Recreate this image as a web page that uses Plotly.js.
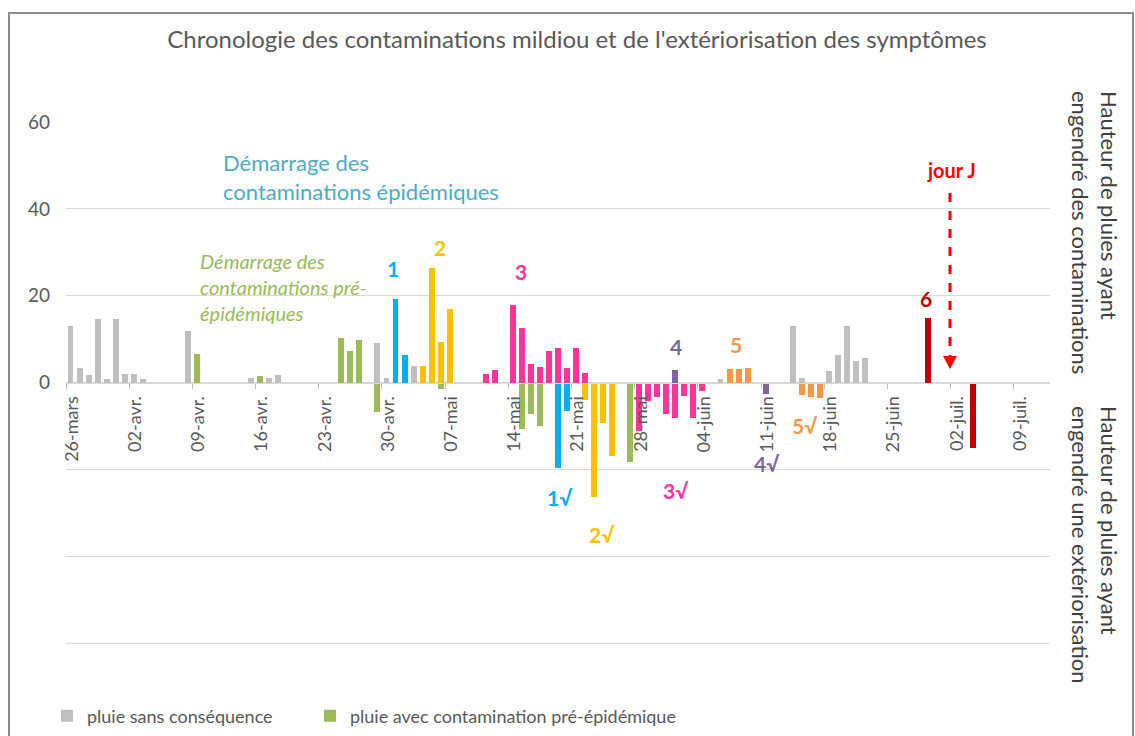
<!DOCTYPE html>
<html><head><meta charset="utf-8">
<script src="https://cdn.plot.ly/plotly-3.0.1.min.js"></script>
<style>
body{margin:0;background:#fff;overflow:hidden}
#chart{position:absolute;left:0;top:0;width:1135px;height:736px}
#frame{position:absolute;left:8px;top:12px;width:1122px;height:760px;border:2px solid #8c8c8c;pointer-events:none}
</style>
</head><body>
<div id="chart"></div><div id="frame"></div>
<script>
// ---- data ----
const grayDates = ['2018-03-26','2018-03-27','2018-03-28','2018-03-29','2018-03-30','2018-03-31','2018-04-01','2018-04-02','2018-04-03','2018-04-08','2018-04-15','2018-04-17','2018-04-18','2018-04-29','2018-04-30','2018-05-03','2018-06-06','2018-06-14','2018-06-15','2018-06-18','2018-06-19','2018-06-20','2018-06-21','2018-06-22'];
const grayValues = [13.0,3.4,1.7,14.7,0.9,14.7,2.0,2.0,0.9,11.8,1.0,1.0,1.8,9.1,1.0,3.8,0.9,13.1,1.1,2.8,6.3,13.1,4.9,5.7];

const greenDates = ['2018-04-09','2018-04-16','2018-04-25','2018-04-26','2018-04-27','2018-04-29','2018-05-06','2018-05-15','2018-05-16','2018-05-17','2018-05-27'];
const greenValues = [6.7,1.5,10.4,7.4,9.8,-6.8,-1.4,-10.6,-7.3,-10.0,-18.2];

const blueDates = ['2018-05-01','2018-05-02','2018-05-19','2018-05-20'];
const blueValues = [19.2,6.4,-19.6,-6.6];

const yellowDates = ['2018-05-04','2018-05-05','2018-05-06','2018-05-07','2018-05-22','2018-05-23','2018-05-24','2018-05-25'];
const yellowValues = [3.8,26.4,9.4,16.9,-4.0,-26.4,-9.3,-16.8];

const pinkDates = ['2018-05-11','2018-05-12','2018-05-14','2018-05-15','2018-05-16','2018-05-17','2018-05-18','2018-05-19','2018-05-20','2018-05-21','2018-05-22','2018-05-28','2018-05-29','2018-05-30','2018-05-31','2018-06-01','2018-06-02','2018-06-03','2018-06-04'];
const pinkValues = [1.9,3.0,17.8,12.5,4.4,3.6,7.4,8.1,3.4,8.0,2.3,-11.0,-4.2,-3.4,-7.3,-8.1,-3.0,-8.1,-2.0];

const purpleDates = ['2018-06-01','2018-06-11'];
const purpleValues = [3.0,-2.6];

const orangeDates = ['2018-06-07','2018-06-08','2018-06-09','2018-06-15','2018-06-16','2018-06-17'];
const orangeValues = [3.2,3.2,3.4,-2.9,-3.2,-3.5];

const redDates = ['2018-06-29','2018-07-04'];
const redValues = [14.9,-15.1];

const tickDates = ['2018-03-26','2018-04-02','2018-04-09','2018-04-16','2018-04-23','2018-04-30','2018-05-07','2018-05-14','2018-05-21','2018-05-28','2018-06-04','2018-06-11','2018-06-18','2018-06-25','2018-07-02','2018-07-09'];
const tickLabels = ['26-mars','02-avr.','09-avr.','16-avr.','23-avr.','30-avr.','07-mai','14-mai','21-mai','28-mai','04-juin','11-juin','18-juin','25-juin','02-juil.','09-juil.'];

const yTickVals = [-60,-40,-20,0,20,40,60];
const yTickText = ['','','','0','20','40','60'];

// ---- layout helpers ----
const FONT = 'Lato, "Open Sans", sans-serif';
const L=66, R=1050, T=122, B=644, W=1135, H=736;
const px = x => (x-L)/(R-L);
const py = y => (B-y)/(B-T);
const DAY = 86400000;

function barTrace(name, dates, values, color, show, legendId){
  return {type:'bar', name:name, x:dates, y:values,
    xperiod:DAY, xperiodalignment:'middle', width:0.66*DAY,
    marker:{color:color, line:{width:0}}, showlegend:show, legend:legendId||'legend', hoverinfo:'x+y'};
}

const data = [
  barTrace('pluie sans conséquence', grayDates, grayValues, '#bfbfbf', true, 'legend'),
  barTrace('pluie avec contamination pré-épidémique', greenDates, greenValues, '#9bbb59', true, 'legend2'),
  barTrace('contamination 1', blueDates, blueValues, '#00b0f0', false),
  barTrace('contamination 2', yellowDates, yellowValues, '#ffc000', false),
  barTrace('contamination 3', pinkDates, pinkValues, '#ff3399', false),
  barTrace('contamination 4', purpleDates, purpleValues, '#8064a2', false),
  barTrace('contamination 5', orangeDates, orangeValues, '#f79646', false),
  barTrace('contamination 6', redDates, redValues, '#c00000', false)
];

function ann(text, x, y, color, size, opts){
  return Object.assign({text:text, x:px(x), y:py(y), xref:'paper', yref:'paper', showarrow:false,
    xanchor:'center', yanchor:'middle', font:{family:FONT, size:size, color:color}}, opts||{});
}

const annotations = [
  ann('Démarrage des<br>contaminations épidémiques', 221, 177, '#4bacc6', 22, {xanchor:'left', align:'left'}),
  ann('<i>Démarrage des<br>contaminations pré-<br>épidémiques</i>', 198, 287, '#9bbb59', 20, {xanchor:'left', align:'left'}),
  ann('<b>1</b>', 393, 268, '#00b0f0', 21),
  ann('<b>2</b>', 440, 247, '#ffc000', 21),
  ann('<b>3</b>', 521, 271, '#ff3399', 21),
  ann('<b>4</b>', 676, 346, '#8064a2', 21),
  ann('<b>5</b>', 736, 344, '#f79646', 21),
  ann('<b>6</b>', 926, 298, '#c00000', 21),
  ann('<b>jour J</b>', 951, 170, '#ff0000', 20),
  ann('<b>1√</b>', 560, 497, '#00b0f0', 21),
  ann('<b>2√</b>', 602, 534, '#ffc000', 21),
  ann('<b>3√</b>', 676, 490, '#ff3399', 21),
  ann('<b>4√</b>', 767, 463, '#8064a2', 21),
  ann('<b>5√</b>', 805, 425, '#f79646', 21),
  ann('Hauteur de pluies ayant<br>engendré des contaminations', 1095, 232, '#404040', 22, {textangle:90, align:'left'}),
  ann('Hauteur de pluies ayant<br>engendré une extériorisation', 1095, 545, '#404040', 22, {textangle:90, align:'left'})
];

const shapes = [
  {type:'line', xref:'paper', yref:'y', x0:0, x1:1, y0:-60, y1:-60, layer:'below',
   line:{color:'#d9d9d9', width:1}},
  {type:'line', xref:'paper', yref:'paper', x0:px(950), x1:px(950), y0:py(193), y1:py(357),
   line:{color:'#ff0000', width:3, dash:'dash'}},
  {type:'path', xref:'paper', yref:'paper',
   path:'M '+px(943)+' '+py(356)+' L '+px(957)+' '+py(356)+' L '+px(950)+' '+py(369)+' Z',
   fillcolor:'#ff0000', line:{width:0}}
];

const legendStyle = {orientation:'h', xanchor:'left', y:py(716), yanchor:'middle',
  font:{family:FONT, size:18, color:'#595959'}, itemwidth:30, bgcolor:'rgba(0,0,0,0)'};

const layout = {
  width:W, height:H,
  margin:{l:L, r:W-R, t:T, b:H-B, pad:0, autoexpand:false},
  paper_bgcolor:'#ffffff', plot_bgcolor:'#ffffff',
  font:{family:FONT, color:'#595959'},
  title:{text:"Chronologie des contaminations mildiou et de l'extériorisation des symptômes",
    x:577/W, xanchor:'center', y:1-40/H, yanchor:'middle', xref:'container', yref:'container',
    font:{family:FONT, size:24, color:'#595959'}},
  barmode:'relative',
  bargap:0,
  xaxis:{type:'date', range:['2018-03-26','2018-07-13'], anchor:'free', position:0.5,
    tickvals:tickDates, ticktext:tickLabels, tickangle:-90,
    ticks:'outside', ticklen:5, tickcolor:'#bfbfbf', ticklabelshift:6, ticklabelstandoff:0,
    showline:true, linecolor:'#d9d9d9', linewidth:1, showgrid:false, zeroline:false,
    tickfont:{family:FONT, size:18, color:'#595959'}, fixedrange:true},
  yaxis:{range:[-60.15,60.02], tickvals:yTickVals, ticktext:yTickText,
    showgrid:true, gridcolor:'#d9d9d9', gridwidth:1, zeroline:true, zerolinecolor:'#d9d9d9',
    showline:false, ticks:'', ticklabelstandoff:15,
    tickfont:{family:FONT, size:19, color:'#595959'}, fixedrange:true},
  legend:Object.assign({}, legendStyle, {x:px(47)}),
  legend2:Object.assign({}, legendStyle, {x:px(310)}),
  annotations:annotations,
  shapes:shapes,
  showlegend:true
};

Plotly.newPlot('chart', data, layout, {displayModeBar:false, staticPlot:true});
</script>
</body></html>
